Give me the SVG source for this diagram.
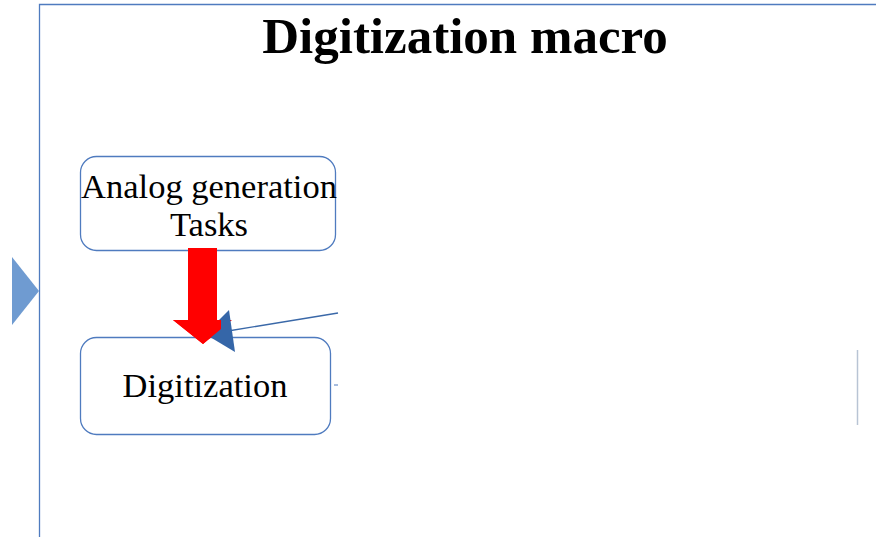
<svg xmlns="http://www.w3.org/2000/svg" width="876" height="537" viewBox="0 0 876 537">
<style>
.box{fill:#fff;stroke:#4f7bbf;stroke-width:1.3}
.lbl{font-family:"Liberation Serif",serif;font-size:34.5px;fill:#000;text-anchor:middle}
.title{font-family:"Liberation Serif",serif;font-size:51px;font-weight:bold;fill:#000;text-anchor:middle}
</style>
<rect width="876" height="537" fill="#fff"/>
<path d="M39.5,537 V4.5 H876" fill="none" stroke="#4f7bbf" stroke-width="1.3"/>
<polygon points="12,257 39,291 12,325" fill="#6f9bd1"/>
<text class="title" x="465" y="53">Digitization macro</text>
<g id="analog">
<rect class="box" x="80.5" y="156.5" width="255" height="94" rx="16"/>
<text class="lbl" x="209" y="198">Analog generation</text>
<text class="lbl" x="209" y="236">Tasks</text>
</g>
<g id="digitization">
<rect class="box" x="80.5" y="337.5" width="250" height="97" rx="16"/>
<text class="lbl" x="205" y="397">Digitization</text>
</g>
<g id="connectors">
<polygon points="188,248 217,248 217,320 232,320 203,344 173,320 188,320" fill="#ff0000"/>
<line x1="338" y1="313" x2="228" y2="331" stroke="#3a68a8" stroke-width="1.3"/>
<polygon points="229,310 235,352 205,334" fill="#3566a8"/>
<polygon points="188,248 217,248 217,320 232,320 203,344 173,320 188,320" fill="#ff0000" clip-path="url(#c)"/>
<line x1="334" y1="385" x2="338" y2="385" stroke="#4f7bbf" stroke-width="1"/>
<line x1="857.5" y1="350" x2="857.5" y2="425" stroke="#b8c4d4" stroke-width="1.5"/>
</g>
<defs><clipPath id="c"><rect x="0" y="0" width="221" height="537"/></clipPath></defs>
</svg>
